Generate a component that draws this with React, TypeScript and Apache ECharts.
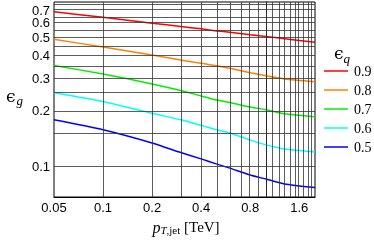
import React, { useEffect, useRef } from 'react';
import * as echarts from 'echarts';

// jet pT [TeV]
const PT_TEV = [0.05, 0.1, 0.2, 0.3, 0.4, 0.5, 0.6, 0.8, 1.0, 1.3, 2.0];
// gluon efficiency for each quark efficiency working point
const EPS_Q = ['0.9', '0.8', '0.7', '0.6', '0.5'];
const EFF_09 = [0.688, 0.642, 0.597, 0.573, 0.556, 0.542, 0.533, 0.516, 0.506, 0.492, 0.47];
const EFF_08 = [0.488, 0.443, 0.401, 0.377, 0.362, 0.351, 0.34, 0.322, 0.31, 0.298, 0.288];
const EFF_07 = [0.352, 0.317, 0.28, 0.258, 0.241, 0.229, 0.222, 0.21, 0.203, 0.193, 0.186];
const EFF_06 = [0.251, 0.225, 0.194, 0.179, 0.167, 0.158, 0.152, 0.139, 0.131, 0.1245, 0.12];
const EFF_05 = [0.179, 0.158, 0.134, 0.119, 0.11, 0.103, 0.098, 0.09, 0.0855, 0.0805, 0.077];
const SERIES_VALUES = [EFF_09, EFF_08, EFF_07, EFF_06, EFF_05];
const COLORS = ['#ff0000', '#ff8000', '#00ee00', '#00ffff', '#0000ff'];

const X_TICKS = [0.05, 0.1, 0.2, 0.4, 0.8, 1.6];
const Y_TICKS = [0.1, 0.2, 0.3, 0.4, 0.5, 0.6, 0.7];
const X_GRID = [0.1, 0.2, 0.3, 0.4, 0.5, 0.6, 0.7, 0.8, 0.9, 1.0, 1.1, 1.2, 1.3, 1.4, 1.5, 1.6, 1.7, 1.8, 1.9];
const Y_GRID = [0.1, 0.15, 0.2, 0.25, 0.3, 0.35, 0.4, 0.45, 0.5, 0.55, 0.6, 0.65, 0.7, 0.75];
const X_MIN = 0.05;
const X_MAX = 2.0;
const Y_MIN = 0.0684;
const Y_MAX = 0.777;

const lg = (v: number) => Math.log10(v);
const fmt = (v: number) => String(parseFloat(Math.pow(10, v).toPrecision(3)));

export default function App() {
  const ref = useRef<HTMLDivElement>(null);
  useEffect(() => {
    const chart = echarts.init(ref.current!, null, { renderer: 'svg' });
    const sans = '"Liberation Sans", Arial, sans-serif';
    const serif = '"Liberation Serif", "Times New Roman", serif';
    const yLabel = (values: number[]) => ({
      customValues: values.map(lg), formatter: fmt, hideOverlap: false,
      fontFamily: sans, fontSize: 13, lineHeight: 11, color: '#000', margin: 4,
    });
    const option: any = {
      animation: false,
      grid: {
        left: 54, top: 2, width: 261, height: 195,
        show: true, borderColor: '#000', borderWidth: 1, backgroundColor: 'transparent',
        containLabel: false, outerBoundsMode: 'none',
      },
      xAxis: {
        type: 'value', min: lg(X_MIN), max: lg(X_MAX),
        axisLine: { show: true, lineStyle: { color: '#000', width: 1 } },
        axisTick: { show: false },
        splitLine: { show: false },
        axisLabel: {
          customValues: X_TICKS.map(lg), formatter: fmt, hideOverlap: false,
          fontFamily: sans, fontSize: 13, color: '#000', margin: 4,
        },
      },
      yAxis: [
        {
          type: 'value', min: lg(Y_MIN), max: lg(Y_MAX), position: 'left',
          axisLine: { show: true, lineStyle: { color: '#000', width: 1 } },
          axisTick: { show: false },
          splitLine: { show: false },
          axisLabel: yLabel(Y_TICKS.filter((_, i) => i % 2 === 0)),
        },
        {
          type: 'value', min: lg(Y_MIN), max: lg(Y_MAX), position: 'left', offset: 0,
          axisLine: { show: false },
          axisTick: { show: false },
          splitLine: { show: false },
          axisLabel: yLabel(Y_TICKS.filter((_, i) => i % 2 === 1)),
        },
      ],
      legend: {
        orient: 'vertical', left: 324, top: 64, padding: 0,
        itemWidth: 24, itemHeight: 14, itemGap: 5,
        icon: 'path://M0 0 L24 0 L24 1.5 L0 1.5 Z',
        data: EPS_Q,
        textStyle: { fontFamily: serif, fontSize: 14, color: '#000', padding: [0, 0, 0, 1] },
        selectedMode: false,
      },
      series: [
        {
          type: 'line', name: '__grid', data: [], silent: true, z: 1,
          markLine: {
            silent: true, animation: false, symbol: ['none', 'none'],
            label: { show: false },
            emphasis: { disabled: true },
            lineStyle: { color: '#333', width: 0.8, type: 'solid' },
            data: [
              ...X_GRID.map((v) => ({ xAxis: lg(v) })),
              ...Y_GRID.map((v) => ({ yAxis: lg(v) })),
            ],
          },
        },
        ...EPS_Q.map((name, k) => ({
          type: 'line', name, z: 3,
          data: PT_TEV.map((p, i) => [lg(p), lg(SERIES_VALUES[k][i])]),
          smooth: 0.2, showSymbol: false, symbol: 'none',
          color: COLORS[k],
          lineStyle: { color: COLORS[k], width: 1.5 },
          emphasis: { disabled: true },
        })),
      ],
      graphic: [
        { type: 'text', x: 6, y: 96, style: { text: 'ϵ', font: '17px "DejaVu Serif", serif', fill: '#000', align: 'left', verticalAlign: 'middle' } },
        { type: 'text', x: 16.5, y: 100, style: { text: 'g', font: 'italic 13px "Liberation Serif", serif', fill: '#000', align: 'left', verticalAlign: 'middle' } },
        { type: 'text', x: 334, y: 53, style: { text: 'ϵ', font: '17px "DejaVu Serif", serif', fill: '#000', align: 'left', verticalAlign: 'middle' } },
        { type: 'text', x: 343.5, y: 58, style: { text: 'q', font: 'italic 13px "Liberation Serif", serif', fill: '#000', align: 'left', verticalAlign: 'middle' } },
        {
          type: 'text', x: 186, y: 227,
          style: {
            text: '{p|p}{s|T}{r|,jet}{n| [TeV]}',
            align: 'center', verticalAlign: 'middle', fill: '#000',
            rich: {
              p: { fontFamily: serif, fontStyle: 'italic', fontSize: 16, lineHeight: 16 },
              s: { fontFamily: serif, fontStyle: 'italic', fontSize: 11, lineHeight: 7, verticalAlign: 'bottom' },
              r: { fontFamily: serif, fontSize: 11, lineHeight: 7, verticalAlign: 'bottom' },
              n: { fontFamily: serif, fontSize: 15, lineHeight: 16 },
            },
          },
        },
      ],
    };
    chart.setOption(option);
    return () => chart.dispose();
  }, []);
  return <div ref={ref} style={{ position: 'fixed', left: 0, top: 0, width: 374, height: 241 }} />;
}
